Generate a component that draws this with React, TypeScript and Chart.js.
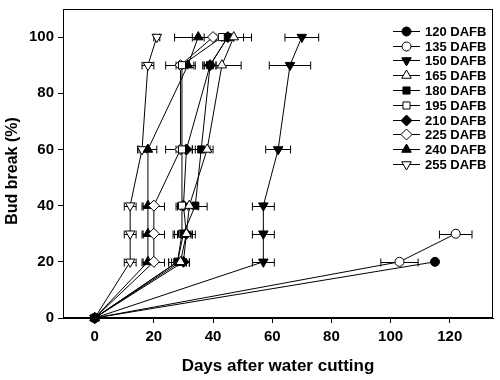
import React, { useEffect, useRef } from 'react';
import { Chart, registerables } from 'chart.js';
import { drawPoint } from 'chart.js/helpers';

Chart.register(...registerables);

// ---------- data ----------
const SERIES_NAMES = ['120 DAFB', '135 DAFB', '150 DAFB', '165 DAFB', '180 DAFB', '195 DAFB', '210 DAFB', '225 DAFB', '240 DAFB', '255 DAFB'];

const X_120 = [0, 115];
const Y_120 = [0, 20];
const E_120 = [0, 0];

const X_135 = [0, 103, 122];
const Y_135 = [0, 20, 30];
const E_135 = [0, 6.3, 5.5];

const X_150 = [0, 57, 57, 57, 62, 66, 70];
const Y_150 = [0, 20, 30, 40, 60, 90, 100];
const E_150 = [0, 3.7, 3.7, 3.7, 4.2, 7, 5.7];

const X_165 = [0, 29, 31, 32, 38, 43, 47];
const Y_165 = [0, 20, 30, 40, 60, 90, 100];
const E_165 = [0, 3, 3, 3, 2, 6.5, 3.3];

const X_180 = [0, 28, 30, 34, 36, 39, 45];
const Y_180 = [0, 20, 30, 40, 60, 90, 100];
const E_180 = [0, 3, 3, 4, 3, 2, 2];

const X_195 = [0, 28, 29.5, 29.5, 29.5, 29.5, 43];
const Y_195 = [0, 20, 30, 40, 60, 90, 100];
const E_195 = [0, 3, 3, 2, 2, 2, 2];

const X_210 = [0, 30, 31, 30, 31, 39, 45];
const Y_210 = [0, 20, 30, 40, 60, 90, 100];
const E_210 = [0, 2, 2, 2, 2, 2, 2];

const X_225 = [0, 20, 20, 20, 29, 29, 40];
const Y_225 = [0, 20, 30, 40, 60, 90, 100];
const E_225 = [0, 3.6, 3.6, 3.6, 5, 5, 13];

const X_240 = [0, 18, 18, 18, 18, 31.5, 35];
const Y_240 = [0, 20, 30, 40, 60, 90, 100];
const E_240 = [0, 2, 2, 2, 3, 2, 2];

const X_255 = [0, 12, 12, 12, 16, 18, 21];
const Y_255 = [0, 20, 30, 40, 60, 90, 100];
const E_255 = [0, 2, 2, 2, 1.5, 2, 1];

const X_TICKS = [0, 20, 40, 60, 80, 100, 120];
const Y_TICKS = [0, 20, 40, 60, 80, 100];
const X_MIN = -10.7;
const X_MAX = 134.6;
const Y_MIN = 0;
const Y_MAX = 110;

const X_TITLE = 'Days after water cutting';
const Y_TITLE = 'Bud break (%)';

// ---------- styles ----------
const SERIES_X = [X_120, X_135, X_150, X_165, X_180, X_195, X_210, X_225, X_240, X_255];
const SERIES_Y = [Y_120, Y_135, Y_150, Y_165, Y_180, Y_195, Y_210, Y_225, Y_240, Y_255];
const SERIES_E = [E_120, E_135, E_150, E_165, E_180, E_195, E_210, E_225, E_240, E_255];
const STYLES = [
  { shape: 'circle', rot: 0, fill: true, r: 4.5 },
  { shape: 'circle', rot: 0, fill: false, r: 4.5 },
  { shape: 'triangle', rot: 180, fill: true, r: 5.5 },
  { shape: 'triangle', rot: 0, fill: false, r: 5.5 },
  { shape: 'rect', rot: 0, fill: true, r: 5 },
  { shape: 'rect', rot: 0, fill: false, r: 5 },
  { shape: 'rectRot', rot: 0, fill: true, r: 5.5 },
  { shape: 'rectRot', rot: 0, fill: false, r: 5.5 },
  { shape: 'triangle', rot: 0, fill: true, r: 5.5 },
  { shape: 'triangle', rot: 180, fill: false, r: 5.5 },
];

const FONT = "'Liberation Sans', Arial, sans-serif";

const errorBarPlugin = {
  id: 'errorBars',
  beforeDatasetsDraw(chart: any) {
    const ctx = chart.ctx;
    const xs = chart.scales.x;
    const ys = chart.scales.y;
    ctx.save();
    ctx.strokeStyle = '#000';
    ctx.lineWidth = 1;
    chart.data.datasets.forEach((ds: any) => {
      const errs: number[] = ds.errors || [];
      ds.data.forEach((p: any, i: number) => {
        const e = errs[i];
        if (!e) return;
        const y = Math.round(ys.getPixelForValue(p.y)) + 0.5;
        const x1 = xs.getPixelForValue(p.x - e);
        const x2 = xs.getPixelForValue(p.x + e);
        ctx.beginPath();
        ctx.moveTo(x1, y);
        ctx.lineTo(x2, y);
        ctx.moveTo(x1, y - 4);
        ctx.lineTo(x1, y + 4);
        ctx.moveTo(x2, y - 4);
        ctx.lineTo(x2, y + 4);
        ctx.stroke();
      });
    });
    ctx.restore();
  },
};

const frameAndLegendPlugin = {
  id: 'frameLegend',
  afterDraw(chart: any) {
    const ctx = chart.ctx;
    const a = chart.chartArea;
    ctx.save();
    ctx.strokeStyle = '#000';
    ctx.lineWidth = 1;
    ctx.strokeRect(Math.round(a.left) + 0.5, Math.round(a.top) + 0.5, Math.round(a.right - a.left) - 1, Math.round(a.bottom - a.top) - 1);
    // y-axis title
    ctx.save();
    ctx.translate(12.5, a.top + 162);
    ctx.rotate(-Math.PI / 2);
    ctx.font = `bold 16px ${FONT}`;
    ctx.fillStyle = '#000';
    ctx.textAlign = 'center';
    ctx.textBaseline = 'middle';
    ctx.fillText(Y_TITLE, 0, 0);
    ctx.restore();
    // legend
    const lx0 = a.right - 100;
    const lx1 = a.right - 73;
    const mx = (lx0 + lx1) / 2;
    const tx = a.right - 68;
    ctx.font = `bold 13px ${FONT}`;
    ctx.textBaseline = 'middle';
    ctx.textAlign = 'left';
    chart.data.datasets.forEach((ds: any, i: number) => {
      const y = Math.round(a.top + 21.7 + i * 14.8) + 0.5;
      ctx.strokeStyle = '#000';
      ctx.lineWidth = 1;
      ctx.beginPath();
      ctx.moveTo(lx0, y);
      ctx.lineTo(lx1, y);
      ctx.stroke();
      const st = STYLES[i];
      ctx.fillStyle = st.fill ? '#000' : '#fff';
      ctx.strokeStyle = '#000';
      drawPoint(ctx, { pointStyle: st.shape as any, rotation: st.rot, radius: st.r, borderWidth: 1 }, mx, y);
      ctx.fillStyle = '#000';
      ctx.fillText(ds.label, tx, y + 0.5);
    });
    ctx.restore();
  },
};

export default function App() {
  const ref = useRef<HTMLCanvasElement>(null);
  useEffect(() => {
    document.body.style.margin = '0';
    const datasets = SERIES_NAMES.map((name, i) => {
      const st = STYLES[i];
      return {
        label: name,
        data: SERIES_X[i].map((x, j) => ({ x, y: SERIES_Y[i][j] })),
        errors: SERIES_E[i],
        showLine: true,
        borderColor: '#000',
        borderWidth: 1,
        pointStyle: st.shape,
        rotation: st.rot,
        pointRadius: st.r,
        pointBorderWidth: 1,
        pointBorderColor: '#000',
        pointBackgroundColor: st.fill ? '#000' : '#fff',
        backgroundColor: st.fill ? '#000' : '#fff',
        tension: 0,
        clip: false,
      } as any;
    });
    const chart = new Chart(ref.current!, {
      type: 'scatter',
      data: { datasets },
      options: {
        animation: false,
        responsive: false,
        devicePixelRatio: 1,
        layout: { padding: { top: 9, right: 7, left: 0, bottom: 0 } },
        plugins: { legend: { display: false }, tooltip: { enabled: false } },
        scales: {
          x: {
            type: 'linear',
            min: X_MIN,
            max: X_MAX,
            afterBuildTicks: (s: any) => { s.ticks = X_TICKS.map((v) => ({ value: v })); },
            afterFit: (s: any) => { s.height = 62; s.paddingLeft = 0; s.paddingRight = 0; },
            grid: { drawOnChartArea: false, drawTicks: true, tickLength: 5, color: '#000' },
            border: { display: true, color: '#000' },
            ticks: { color: '#000', padding: 5, font: { family: FONT, size: 15, weight: 'bold' }, maxRotation: 0 },
            title: { display: true, text: X_TITLE, color: '#000', font: { family: FONT, size: 17, weight: 'bold' }, padding: { top: 4, bottom: 3 } },
          },
          y: {
            type: 'linear',
            min: Y_MIN,
            max: Y_MAX,
            afterBuildTicks: (s: any) => { s.ticks = Y_TICKS.map((v) => ({ value: v })); },
            afterFit: (s: any) => { s.width = 63; s.paddingTop = 0; s.paddingBottom = 0; },
            grid: { drawOnChartArea: false, drawTicks: true, tickLength: 5, color: '#000' },
            border: { display: true, color: '#000' },
            ticks: { color: '#000', padding: 4, font: { family: FONT, size: 15, weight: 'bold' } },
            title: { display: false },
          },
        },
      } as any,
      plugins: [errorBarPlugin, frameAndLegendPlugin],
    });
    return () => chart.destroy();
  }, []);
  return <canvas ref={ref} width={500} height={380} style={{ display: 'block' }} />;
}
